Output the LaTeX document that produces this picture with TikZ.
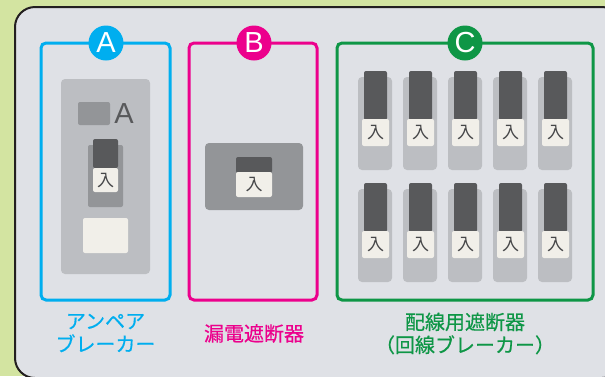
\documentclass[tikz,border=0pt]{standalone}
\usepackage{fontspec}
\newfontfamily\jp{Noto Sans CJK JP}
\newfontfamily\jpm[FakeBold=0.5]{Noto Sans CJK JP}
\newfontfamily\lat{Liberation Sans}
\definecolor{bggreen}{HTML}{D3E4A1}
\definecolor{panel}{HTML}{DFE1E6}
\definecolor{edge}{HTML}{231F20}
\definecolor{cblue}{HTML}{00AEEF}
\definecolor{cpink}{HTML}{EC008C}
\definecolor{cgreen}{HTML}{0E9646}
\definecolor{glight}{HTML}{BCBEC2}
\definecolor{gmid}{HTML}{939598}
\definecolor{gdark}{HTML}{58595B}
\definecolor{cream}{HTML}{F1EFE9}
\tikzset{
  frame/.style={line width=3pt, rounded corners=5pt},
  badge/.style={circle, minimum size=35pt, inner sep=0pt, text=white,
    font=\lat\fontsize{29}{29}\selectfont},
  lever/.style={fill=gdark, rounded corners=2pt},
  plate/.style={fill=cream, rounded corners=2pt},
  nyu/.style={inner sep=0pt, text=gdark!80!black, font=\jp\fontsize{17}{17}\selectfont},
  caption/.style={align=center, inner sep=0pt, font=\jpm\fontsize{20}{23}\selectfont},
}
\newcommand\brkr[3]{%
  \fill[glight, rounded corners=4pt] (#1,#2+6) rectangle (#1+34,#2+99);
  \fill[lever] (#1+6,#2) rectangle (#1+29,#2+49);
  \fill[plate] (#1+4,#2+48) rectangle (#1+31,#2+75);
  \node[nyu] (#3) at (#1+17.5,#2+61.5) {入};
}
\begin{document}
\begin{tikzpicture}[x=1pt,y=-1pt]
\useasboundingbox (0,0) rectangle (605,376);
\fill[bggreen] (0,0) rectangle (605,376);
\draw[edge, fill=panel, line width=2pt, rounded corners=20pt] (15,7) rectangle (622,378);
% box A
\draw[cblue, frame] (41,43) rectangle (170,300);
\node[badge, fill=cblue] (bA) at (106,43) {A};
\fill[glight, rounded corners=4pt] (61,79) rectangle (150,274);
\fill[gmid, rounded corners=2pt] (78,102) rectangle (110,125);
\node[inner sep=0pt, text=gdark, font=\lat\fontsize{29}{29}\selectfont] (ampA) at (124,114) {A};
\fill[gmid, rounded corners=2pt] (88,145) rectangle (123,207);
\fill[lever] (93,139) rectangle (118,168);
\fill[plate] (93,168) rectangle (118,192);
\node[nyu] (nA) at (105.5,180.5) {入};
\fill[cream, rounded corners=2pt] (83,218) rectangle (128,253);
\node[caption, text=cblue] (capA) at (105.5,333) {アンペア\\ブレーカー};
% box B
\draw[cpink, frame] (189,43) rectangle (317,300);
\node[badge, fill=cpink] (bB) at (254,43) {B};
\fill[gmid, rounded corners=4pt] (205,143) rectangle (303,210);
\fill[lever] (236,157) rectangle (272,173);
\fill[plate] (236,172) rectangle (272,197);
\node[nyu] (nB) at (254,184.5) {入};
\node[caption, text=cpink] (capB) at (254,333.5) {漏電遮断器};
% box C
\draw[cgreen, frame] (337,43) rectangle (593,300);
\node[badge, fill=cgreen] (bC) at (465,43) {C};
\foreach \i in {0,...,4} {
  \brkr{358+45*\i}{71}{n1\i}
  \brkr{358+45*\i}{183}{n2\i}
}
\node[caption, text=cgreen] (capC) at (465,333.5) {配線用遮断器\\（回線ブレーカー）};
\end{tikzpicture}
\end{document}
